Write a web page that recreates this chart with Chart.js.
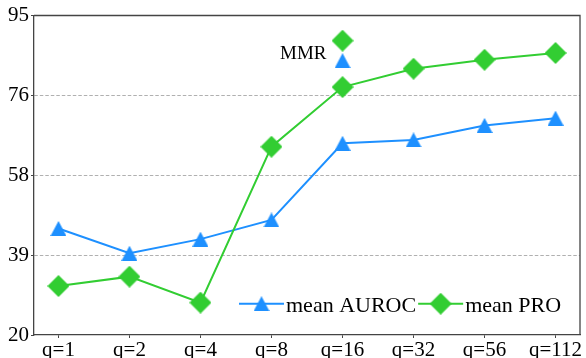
<!DOCTYPE html>
<html>
<head>
<meta charset="utf-8">
<script src="https://cdn.jsdelivr.net/npm/chart.js@4.4.1/dist/chart.umd.min.js"></script>
<style>
  html, body { margin: 0; padding: 0; background: #fff; overflow: hidden; }
  #wrap { width: 586px; height: 358px; }
</style>
</head>
<body>
<div id="wrap"><canvas id="chart" width="586" height="358"></canvas></div>
<script>
// data
const categories = ['q=1', 'q=2', 'q=4', 'q=8', 'q=16', 'q=32', 'q=56', 'q=112'];
const meanAuroc = [45.0, 39.2, 42.5, 47.0, 65.0, 65.8, 69.2, 70.9];
const meanPro = [31.5, 33.7, 27.6, 64.2, 78.2, 82.5, 84.6, 86.2];
const yTickValues = [20, 38.75, 57.5, 76.25, 95];

// MMR reference points (at q=16)
const mmrIndex = 4;
const mmrAuroc = 84.4;
const mmrPro = 89.1;

const BLUE = '#1e90ff';
const GREEN = '#32cd32';
const FONT = '"Liberation Serif", "Times New Roman", serif';

// marker images, so they sit centred on the point like the original
function triangleMarker(color) {
  const c = document.createElement('canvas');
  c.width = 16; c.height = 15;
  const g = c.getContext('2d');
  g.fillStyle = color;
  g.beginPath();
  g.moveTo(8, 0); g.lineTo(16, 15); g.lineTo(0, 15);
  g.closePath();
  g.fill();
  return c;
}
function diamondMarker(color) {
  const c = document.createElement('canvas');
  c.width = 22; c.height = 22;
  const g = c.getContext('2d');
  g.fillStyle = color;
  g.beginPath();
  g.moveTo(11, 0); g.lineTo(22, 11); g.lineTo(11, 22); g.lineTo(0, 11);
  g.closePath();
  g.fill();
  return c;
}
const triBlue = triangleMarker(BLUE);
const diaGreen = diamondMarker(GREEN);

const toPoints = arr => arr.map((v, i) => ({ x: i, y: v }));

// top + right frame, legend inside the plot, MMR label
const extras = {
  id: 'extras',
  beforeDatasetsDraw(chart) {
    const { ctx, chartArea: a } = chart;
    ctx.save();
    ctx.strokeStyle = '#444';
    ctx.lineWidth = 1.3;
    ctx.beginPath();
    ctx.moveTo(a.left, a.top);
    ctx.lineTo(a.right, a.top);
    ctx.lineTo(a.right, a.bottom);
    ctx.stroke();
    ctx.restore();
  },
  afterDraw(chart) {
    const { ctx, chartArea: a, scales } = chart;
    ctx.save();

    // legend
    const items = [
      { text: 'mean AUROC', color: BLUE, marker: triBlue },
      { text: 'mean PRO', color: GREEN, marker: diaGreen }
    ];
    ctx.font = '22px ' + FONT;
    let x = a.right - 341;
    const cy = a.bottom - 31.3;
    items.forEach(it => {
      ctx.strokeStyle = it.color;
      ctx.lineWidth = 2;
      ctx.beginPath();
      ctx.moveTo(x, cy);
      ctx.lineTo(x + 45, cy);
      ctx.stroke();
      ctx.drawImage(it.marker, x + 22.5 - it.marker.width / 2, cy - it.marker.height / 2);
      ctx.fillStyle = '#000';
      ctx.textAlign = 'left';
      ctx.textBaseline = 'alphabetic';
      ctx.fillText(it.text, x + 47, cy + 8);
      x += 47 + ctx.measureText(it.text).width + 2;
    });

    // MMR label
    ctx.font = '19px ' + FONT;
    ctx.fillStyle = '#000';
    ctx.textAlign = 'right';
    ctx.textBaseline = 'alphabetic';
    ctx.fillText('MMR', scales.x.getPixelForValue(mmrIndex) - 16,
      scales.y.getPixelForValue(mmrPro) + 18.5);
    ctx.restore();
  }
};

new Chart(document.getElementById('chart'), {
  type: 'line',
  data: {
    datasets: [
      {
        label: 'mean AUROC',
        data: toPoints(meanAuroc),
        borderColor: BLUE,
        borderWidth: 2,
        pointStyle: triBlue,
        order: 2
      },
      {
        label: 'mean PRO',
        data: toPoints(meanPro),
        borderColor: GREEN,
        borderWidth: 2,
        pointStyle: diaGreen,
        order: 1
      },
      {
        label: 'MMR AUROC',
        data: [{ x: mmrIndex, y: mmrAuroc }],
        showLine: false,
        pointStyle: triBlue,
        order: 0
      },
      {
        label: 'MMR PRO',
        data: [{ x: mmrIndex, y: mmrPro }],
        showLine: false,
        pointStyle: diaGreen,
        order: 0
      }
    ]
  },
  options: {
    responsive: false,
    animation: false,
    events: [],
    layout: { padding: { top: 15.5, right: 5.4, left: 0, bottom: 0 } },
    plugins: { legend: { display: false }, tooltip: { enabled: false } },
    elements: { line: { tension: 0 } },
    scales: {
      x: {
        type: 'linear',
        min: -0.345,
        max: 7.345,
        afterBuildTicks: s => { s.ticks = categories.map((_, i) => ({ value: i })); },
        afterFit: s => { s.height = 23; },
        grid: { drawOnChartArea: false, tickLength: 3, tickColor: '#444', tickWidth: 1 },
        border: { color: '#444', width: 1.3 },
        ticks: {
          padding: 0,
          maxRotation: 0,
          autoSkip: false,
          color: '#000',
          font: { family: FONT, size: 21 },
          callback: v => categories[v]
        }
      },
      y: {
        min: 20,
        max: 95,
        afterBuildTicks: s => { s.ticks = yTickValues.map(v => ({ value: v })); },
        afterFit: s => { s.width = 34; },
        grid: {
          color: c => (c.index > 0 && c.index < yTickValues.length - 1) ? '#b0b0b0' : 'rgba(0,0,0,0)',
          lineWidth: 1,
          tickLength: 3,
          tickColor: '#444'
        },
        border: { color: '#444', width: 1.3, dash: [3.5, 2] },
        ticks: {
          padding: 2,
          color: '#000',
          font: { family: FONT, size: 21 },
          callback: v => String(Math.round(v))
        }
      }
    }
  },
  plugins: [extras]
});
</script>
</body>
</html>
